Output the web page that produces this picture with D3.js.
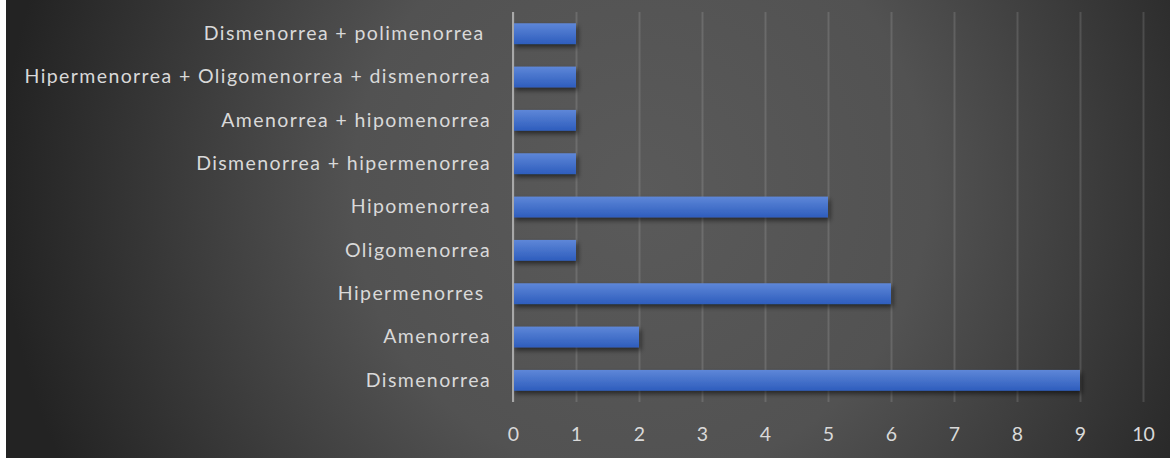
<!DOCTYPE html>
<html><head><meta charset="utf-8">
<script src="https://cdn.jsdelivr.net/npm/d3@7"></script>
<style>html,body{margin:0;padding:0;background:#fff;overflow:hidden}</style>
</head><body>
<svg id="c" width="1170" height="458"></svg>
<script>
const categories = ["Dismenorrea + polimenorrea ", "Hipermenorrea + Oligomenorrea + dismenorrea", "Amenorrea + hipomenorrea", "Dismenorrea + hipermenorrea", "Hipomenorrea", "Oligomenorrea", "Hipermenorres ", "Amenorrea", "Dismenorrea"];
const values = [1, 1, 1, 1, 5, 1, 6, 2, 9];
const xTicks = [0, 1, 2, 3, 4, 5, 6, 7, 8, 9, 10];

const svg = d3.select("#c");
const defs = svg.append("defs");
const bg = defs.append("radialGradient").attr("id", "bg").attr("gradientUnits", "userSpaceOnUse")
  .attr("cx", 640).attr("cy", 190).attr("r", 640);
bg.append("stop").attr("offset", "0").attr("stop-color", "#5a5a5a");
bg.append("stop").attr("offset", "0.45").attr("stop-color", "#525252");
bg.append("stop").attr("offset", "1").attr("stop-color", "#232323");
const bar = defs.append("linearGradient").attr("id", "bar").attr("x1", 0).attr("y1", 0).attr("x2", 0).attr("y2", 1);
bar.append("stop").attr("offset", "0").attr("stop-color", "#5e87d8");
bar.append("stop").attr("offset", "1").attr("stop-color", "#2e5dbd");
const f = defs.append("filter").attr("id", "sh").attr("x", "-10%").attr("y", "-50%").attr("width", "130%").attr("height", "250%");
f.append("feDropShadow").attr("dx", 2).attr("dy", 3).attr("stdDeviation", 2.5).attr("flood-color", "#000").attr("flood-opacity", 0.55);

svg.append("rect").attr("x", 6).attr("y", 0).attr("width", 1164).attr("height", 458).attr("fill", "url(#bg)");

const x = d3.scaleLinear().domain([0, 10]).range([513, 1143]);
const y = d3.scaleBand().domain(categories).range([12, 402]).paddingInner(0.52).paddingOuter(0.26);

// gridlines
const grid = svg.append("g").attr("transform", "translate(0,402)")
  .call(d3.axisBottom(x).tickValues(xTicks).tickSize(-390).tickFormat(""));
grid.select(".domain").remove();
grid.selectAll("line").attr("stroke", "rgba(255,255,255,0.13)").attr("stroke-width", 2);

// bars
svg.append("g").selectAll("rect").data(categories).join("rect")
  .attr("x", x(0)).attr("y", d => y(d))
  .attr("width", (d, i) => x(values[i]) - x(0)).attr("height", y.bandwidth())
  .attr("fill", "url(#bar)").attr("filter", "url(#sh)");

// vertical axis line
svg.append("line").attr("x1", x(0)).attr("x2", x(0)).attr("y1", 12).attr("y2", 402)
  .attr("stroke", "#a8a8a8").attr("stroke-width", 2);

// y labels
const yAx = svg.append("g").attr("transform", `translate(${x(0)},0)`)
  .call(d3.axisLeft(y).tickSize(0).tickPadding(22));
yAx.select(".domain").remove();
yAx.selectAll("text").attr("fill", "#d9d9d9").style("font-family", "Lato, 'Open Sans', sans-serif")
  .style("font-size", "19.5px").style("letter-spacing", "1.4px").style("white-space", "pre");

// x labels
const xAx = svg.append("g").attr("transform", "translate(0,402)")
  .call(d3.axisBottom(x).tickValues(xTicks).tickSize(0).tickPadding(25));
xAx.select(".domain").remove();
xAx.selectAll("text").attr("fill", "#d9d9d9").style("font-family", "Lato, 'Open Sans', sans-serif")
  .style("font-size", "19.5px");
</script>
</body></html>
